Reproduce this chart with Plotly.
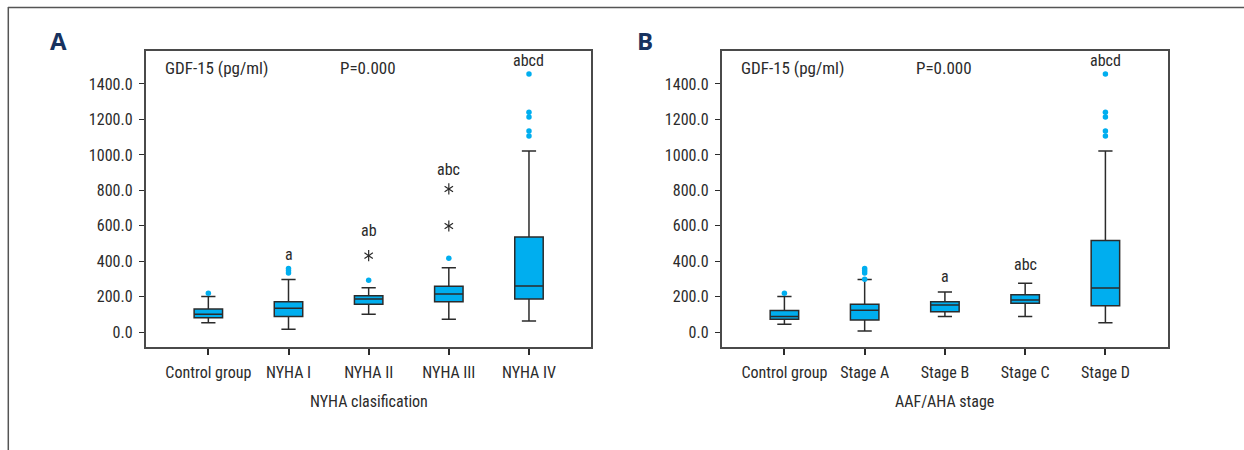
import plotly.graph_objects as go

# ---- data -------------------------------------------------------------
nyha_groups = ["Control group", "NYHA I", "NYHA II", "NYHA III", "NYHA IV"]
nyha_lower = [54, 17, 101, 73, 64]
nyha_q1 = [82, 88, 158, 172, 188]
nyha_median = [101, 135, 188, 216, 261]
nyha_q3 = [131, 172, 206, 259, 537]
nyha_upper = [201, 297, 251, 364, 1022]
nyha_outlier_x = ["Control group", "NYHA I", "NYHA I", "NYHA I", "NYHA II", "NYHA III",
                  "NYHA IV", "NYHA IV", "NYHA IV", "NYHA IV", "NYHA IV"]
nyha_outlier_y = [220, 360, 347, 334, 293, 417, 1456, 1240, 1214, 1135, 1107]
nyha_extreme_x = ["NYHA II", "NYHA III", "NYHA III"]
nyha_extreme_y = [432, 599, 808]
nyha_letters = ["a", "ab", "abc", "abcd"]
nyha_letter_x = ["NYHA I", "NYHA II", "NYHA III", "NYHA IV"]
nyha_letter_y = [436, 571, 920, 1530]

stage_groups = ["Control group", "Stage A", "Stage B", "Stage C", "Stage D"]
stage_lower = [45, 7, 88, 88, 54]
stage_q1 = [73, 69, 116, 163, 150]
stage_median = [88, 124, 154, 182, 250]
stage_q3 = [122, 158, 172, 212, 518]
stage_upper = [201, 297, 227, 276, 1022]
stage_outlier_x = ["Control group", "Stage A", "Stage A", "Stage A", "Stage A",
                   "Stage D", "Stage D", "Stage D", "Stage D", "Stage D"]
stage_outlier_y = [220, 360, 347, 334, 299, 1456, 1240, 1214, 1135, 1107]
stage_letters = ["a", "abc", "abcd"]
stage_letter_x = ["Stage B", "Stage C", "Stage D"]
stage_letter_y = [317, 383, 1530]

y_ticks = [0, 200, 400, 600, 800, 1000, 1200, 1400]

# ---- style ------------------------------------------------------------
FONT = "Roboto Condensed, Liberation Sans Narrow, sans-serif"
BOX_FILL = "#00AEEF"
INK = "#2b2b2b"
W, H = 1244, 450
Y_DOMAIN = [(H - 347.3) / H, (H - 51) / H]
Y_RANGE = [-85, 1586]
X_RANGE = [-0.784, 4.775]

fig = go.Figure()


def add_panel(groups, lower, q1, med, q3, upper, ox, oy, xa, ya):
    fig.add_trace(go.Box(
        x=groups, lowerfence=lower, q1=q1, median=med, q3=q3, upperfence=upper,
        fillcolor=BOX_FILL, line=dict(color=INK, width=1.5), width=0.355,
        whiskerwidth=0.5, boxpoints=False, xaxis=xa, yaxis=ya, showlegend=False,
    ))
    fig.add_trace(go.Scatter(
        x=ox, y=oy, mode="markers", xaxis=xa, yaxis=ya, showlegend=False,
        marker=dict(color=BOX_FILL, size=5.5, line=dict(width=0)),
    ))


add_panel(nyha_groups, nyha_lower, nyha_q1, nyha_median, nyha_q3, nyha_upper,
          nyha_outlier_x, nyha_outlier_y, "x", "y")
add_panel(stage_groups, stage_lower, stage_q1, stage_median, stage_q3, stage_upper,
          stage_outlier_x, stage_outlier_y, "x2", "y2")

# extreme values: six-armed asterisks built from two overlaid "Y" symbols
for sym in ("y-up-open", "y-down-open"):
    fig.add_trace(go.Scatter(
        x=nyha_extreme_x, y=nyha_extreme_y, mode="markers", xaxis="x", yaxis="y",
        showlegend=False, hoverinfo="skip" if sym == "y-down-open" else None,
        marker=dict(symbol=sym, size=7, color=INK, line=dict(color=INK, width=1.2)),
    ))

axis_common = dict(
    showline=True, mirror=True, linecolor="#4a4a4a", linewidth=1.5,
    showgrid=False, zeroline=False, ticks="outside", tickcolor=INK,
    tickfont=dict(family=FONT, size=16, color=INK),
)
x_common = dict(type="category", categoryorder="array", range=X_RANGE, tickangle=0,
                ticklen=6, tickwidth=1.5, ticklabelstandoff=4, **axis_common)
y_common = dict(domain=Y_DOMAIN, range=Y_RANGE, tickvals=y_ticks, tickformat=".1f",
                ticklen=5, tickwidth=1, ticklabelstandoff=3, **axis_common)

fig.update_layout(
    width=W, height=H, margin=dict(l=0, r=0, t=0, b=0),
    paper_bgcolor="white", plot_bgcolor="white",
    font=dict(family=FONT, color=INK),
    xaxis=dict(domain=[145.5 / W, 591.1 / W], categoryarray=nyha_groups, anchor="y",
               **x_common),
    yaxis=dict(anchor="x", **y_common),
    xaxis2=dict(domain=[721.5 / W, 1167.6 / W], categoryarray=stage_groups, anchor="y2",
                **x_common),
    yaxis2=dict(anchor="x2", **y_common),
)

ann = []
txt = dict(family=FONT, size=16, color=INK)
head = dict(family=FONT, size=17, color=INK)
for xr, yr in (("x", "y"), ("x2", "y2")):
    ann.append(dict(x=-0.56, y=1491, xref=xr, yref=yr, text="GDF-15 (pg/ml)",
                    showarrow=False, xanchor="left", yanchor="middle", font=head))
    ann.append(dict(x=1.62, y=1491, xref=xr, yref=yr, text="P=0.000",
                    showarrow=False, xanchor="left", yanchor="middle", font=head))

for t, x, y in zip(nyha_letters, nyha_letter_x, nyha_letter_y):
    ann.append(dict(x=x, y=y, xref="x", yref="y", text=t, showarrow=False,
                    yanchor="middle", font=txt))
for t, x, y in zip(stage_letters, stage_letter_x, stage_letter_y):
    ann.append(dict(x=x, y=y, xref="x2", yref="y2", text=t, showarrow=False,
                    yanchor="middle", font=txt))

# axis titles
ann.append(dict(x=2, y=(H - 401) / H, xref="x", yref="paper", text="NYHA clasification",
                showarrow=False, yanchor="middle", font=txt))
ann.append(dict(x=2, y=(H - 401) / H, xref="x2", yref="paper", text="AAF/AHA stage",
                showarrow=False, yanchor="middle", font=txt))

# panel letters
panel_font = dict(family="Open Sans, Liberation Sans, sans-serif", size=24, color="#17325f")
ann.append(dict(x=58 / W, y=(H - 40) / H, xref="paper", yref="paper", text="<b>A</b>",
                showarrow=False, xanchor="center", yanchor="middle", font=panel_font))
ann.append(dict(x=645 / W, y=(H - 40) / H, xref="paper", yref="paper", text="<b>B</b>",
                showarrow=False, xanchor="center", yanchor="middle", font=panel_font))

fig.update_layout(annotations=ann)

# outer frame: top and left rule
fig.add_shape(type="line", xref="paper", yref="paper", x0=8 / W, x1=1, y0=(H - 7.5) / H,
              y1=(H - 7.5) / H, line=dict(color="#555555", width=1.5))
fig.add_shape(type="line", xref="paper", yref="paper", x0=8.3 / W, x1=8.3 / W, y0=0,
              y1=(H - 7) / H, line=dict(color="#555555", width=1.5))

fig.write_html("out.html")
